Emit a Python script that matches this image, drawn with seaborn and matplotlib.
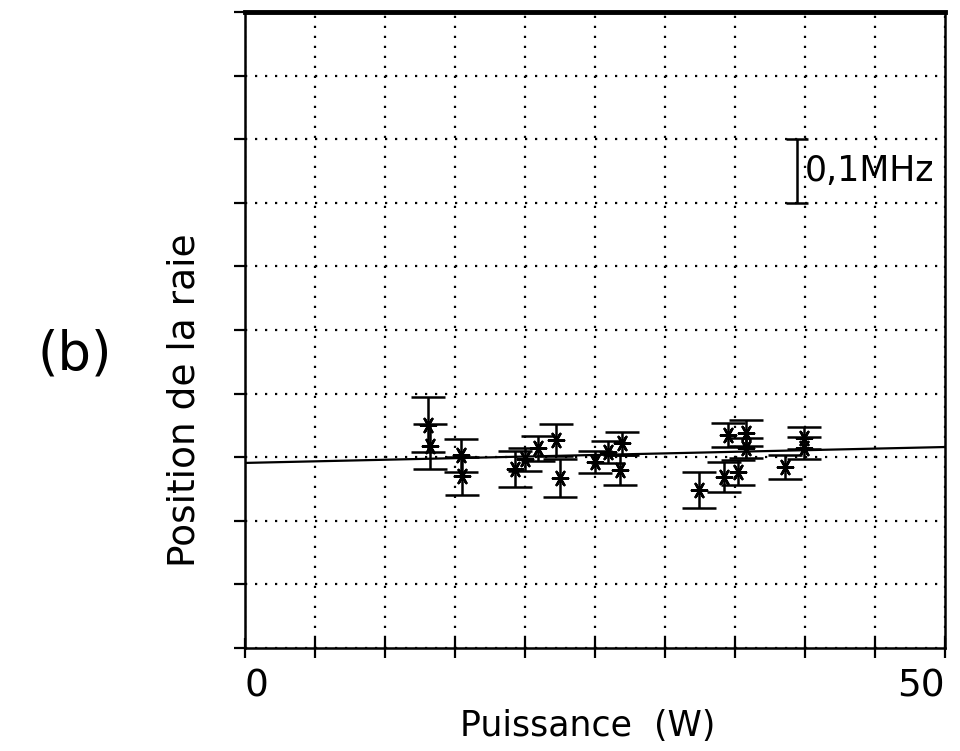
import numpy as np
import matplotlib
matplotlib.use("Agg")
import matplotlib.pyplot as plt
import seaborn as sns

# measured points (power in W, line position in MHz, relative scale)
power = [13.1, 13.2, 15.4, 15.5, 19.3, 20.0, 20.9, 22.2, 22.5, 25.0, 25.9,
         26.9, 26.8, 32.4, 34.2, 35.2, 34.5, 35.8, 35.8, 38.6, 39.9, 39.9]
position = [0.351, 0.317, 0.303, 0.270, 0.281, 0.297, 0.314, 0.327, 0.267,
            0.292, 0.308, 0.322, 0.280, 0.248, 0.269, 0.276, 0.335, 0.338,
            0.314, 0.285, 0.330, 0.314]
error = [0.043, 0.035, 0.026, 0.030, 0.028, 0.018, 0.020, 0.025, 0.030,
         0.017, 0.017, 0.018, 0.024, 0.028, 0.024, 0.020, 0.019, 0.020,
         0.016, 0.019, 0.017, 0.017]

# linear fit
fit_x = [0, 50]
fit_y = [0.291, 0.316]

# scale bar
bar_x = 39.4
bar_y = [0.7, 0.8]

xticks = list(range(0, 51, 5))
xticklabels = ["0"] + [""] * 9 + ["50"]
yticks = [i / 10 for i in range(11)]

sns.set_style("white")
plt.rcParams["font.family"] = ["DejaVu Sans Condensed", "DejaVu Sans"]
plt.rcParams["text.color"] = "black"
plt.rcParams["axes.labelcolor"] = "black"
plt.rcParams["xtick.color"] = "black"
plt.rcParams["ytick.color"] = "black"

fig = plt.figure(figsize=(9.6, 7.51), dpi=100)
ax = fig.add_axes([245 / 960, 1 - 648 / 751, 700 / 960, 636 / 751])

ax.errorbar(power, position, yerr=error, fmt="none", ecolor="black",
            elinewidth=1.8, capsize=12, capthick=1.8, zorder=3)
sns.scatterplot(x=power, y=position, marker=(6, 2, 90), s=120, color="black",
                linewidth=1.8, edgecolor="black", ax=ax, zorder=4)
sns.lineplot(x=fit_x, y=fit_y, color="black", linewidth=1.6, ax=ax, zorder=2)

# scale bar 0,1 MHz
ax.errorbar([bar_x], [np.mean(bar_y)], yerr=[(bar_y[1] - bar_y[0]) / 2],
            fmt="none", ecolor="black", elinewidth=1.8, capsize=8, capthick=1.8)
ax.text(bar_x + 0.6, np.mean(bar_y), "0,1MHz", fontsize=25, va="center",
        ha="left")

ax.set_xlim(0, 50)
ax.set_ylim(0, 1.0)
ax.set_xticks(xticks)
ax.set_xticklabels(xticklabels, fontsize=27)
labels = ax.get_xticklabels()
labels[0].set_horizontalalignment("left")
labels[-1].set_horizontalalignment("right")
ax.set_yticks(yticks)
ax.set_yticklabels([])
ax.grid(True, linestyle=(0, (1, 3.5)), color="black", linewidth=1.6)
ax.tick_params(axis="x", direction="inout", length=14, width=1.6, pad=8,
               bottom=True)
ax.tick_params(axis="y", direction="out", length=8, width=1.6, left=True)

for side in ["left", "bottom", "right", "top"]:
    ax.spines[side].set_visible(True)
    ax.spines[side].set_color("black")
ax.spines["left"].set_linewidth(1.8)
ax.spines["bottom"].set_linewidth(1.8)
ax.spines["right"].set_linewidth(1.8)
ax.spines["top"].set_linewidth(3.5)

ax.set_xlabel("Puissance  (W)", fontsize=25)
ax.xaxis.set_label_coords(0.49, -0.096)
ax.set_ylabel("Position de la raie", fontsize=27)
ax.yaxis.set_label_coords(-0.06, 0.39)

fig.text(75 / 960, 1 - 355 / 751, "(b)", fontsize=38, ha="center",
         va="center")

fig.savefig("out.png", dpi=100)
